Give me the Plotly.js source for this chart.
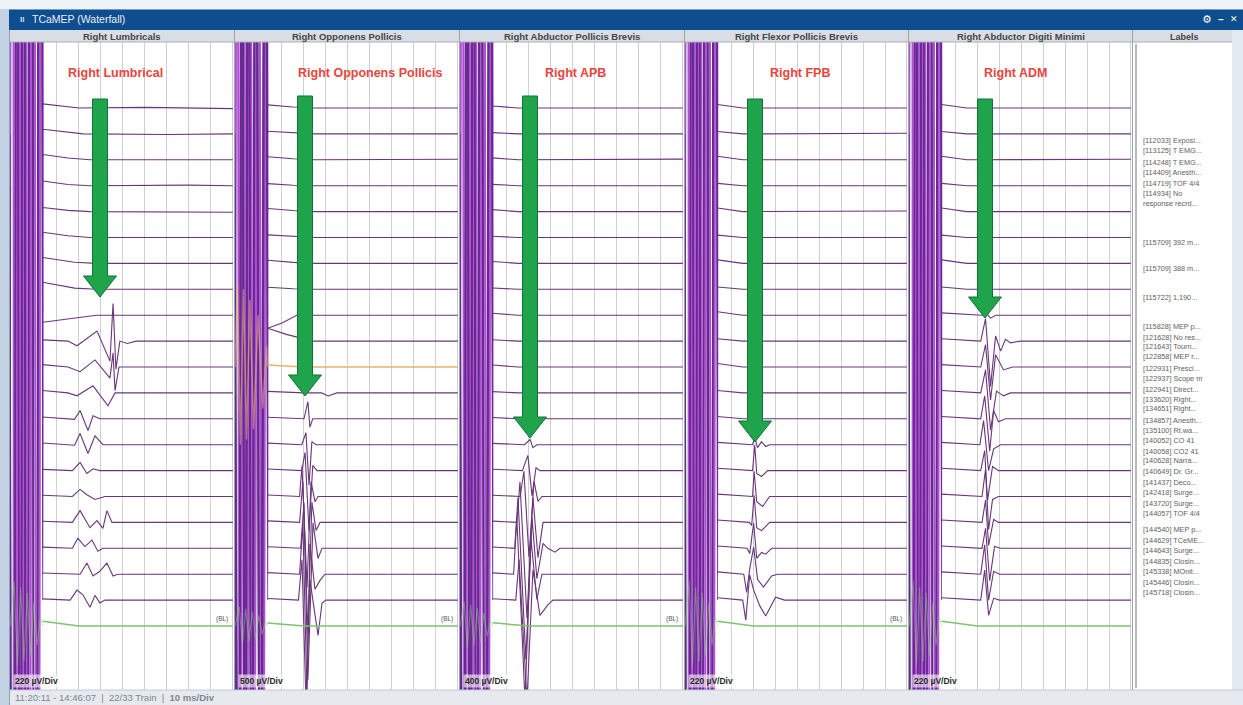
<!DOCTYPE html>
<html>
<head>
<meta charset="utf-8">
<script src="https://cdn.plot.ly/plotly-3.0.1.min.js"></script>
<style>
html,body{margin:0;padding:0;background:#ffffff;overflow:hidden;}
#chart{width:1243px;height:705px;}
</style>
</head>
<body>
<div id="chart"></div>
<script>
// ================= DATA =================
const windowTitle = "TCaMEP (Waterfall)";
const channelNames = ["Right Lumbricals", "Right Opponens Pollicis", "Right Abductor Pollicis Brevis", "Right Flexor Pollicis Brevis", "Right Abductor Digiti Minimi"];
const calloutNames = ["Right Lumbrical", "Right Opponens Pollicis", "Right APB", "Right FPB", "Right ADM"];
const sensitivityUv = [220, 500, 400, 220, 220];           // µV per division
const sensitivityLabels = ["220 µV/Div", "500 µV/Div", "400 µV/Div", "220 µV/Div", "220 µV/Div"];
const statusRange = "11:20:11 - 14:46:07  |  22/33 Train  |  ";
const statusTimebase = "10 ms/Div";
const baselineTag = "(BL)";

const eventLabels = [
  "[112033] Exposi...", "[113125] T EMG...", "[114248] T EMG...", "[114409] Anesth...",
  "[114719] TOF 4/4", "[114934] No", "response recrd...", "[115709] 392 m...",
  "[115709] 388 m...", "[115722] 1,190...", "[115828] MEP p...", "[121628] No res...",
  "[121643] Tourn...", "[122858] MEP r...", "[122931] Presci...", "[122937] Scope m",
  "[122941] Direct...", "[133620] Right...", "[134651] Right...", "[134857] Anesth...",
  "[135100] Rt.wa...", "[140052] CO 41", "[140058] CO2 41", "[140628] Narra...",
  "[140649] Dr. Gr...", "[141437] Deco...", "[142418] Surge...", "[143720] Surge...",
  "[144057] TOF 4/4", "[144540] MEP p...", "[144629] TCeME...", "[144643] Surge...",
  "[144835] Closin...", "[145338] MOnit...", "[145446] Closin...", "[145718] Closin..."
];

// stimulus artifact (time ms, µV) – saturating, two alternating patterns
const artifactTimesA = [-1.3, -0.3, 1.1, 2.5, 3.9, 5.4, 7.1, 9.1, 11.3, 13.0, 13.5];
const artifactValsA  = [0, 20000, -20000, 20000, -20000, 20000, -20000, 20000, -20000, 20000, 0];
const artifactTimesB = [-1.3, 0.4, 1.8, 3.2, 4.7, 6.2, 8.1, 10.2, 12.4, 13.5];
const artifactValsB  = [0, -20000, 20000, -20000, 20000, -20000, 20000, -20000, 20000, 0];
const highlightArtifactVals = [0, 1600, -1500, 1500, -1400, 1300, -1200, 1000, -800, 400, 0];
const greenArtifactTimes = [-1.3, 0.5, 2.0, 3.5, 5.0, 6.5, 8.0, 9.5, 11.0, 12.5, 13.5];
const greenArtifactVals  = [0, 380, -340, 330, -300, 280, -250, 200, -160, 80, 0];

// traces: [time ms, µV] vertices, top trial first
const lumbricalRows = [
  [[13.5,35],[20,20],[30,0],[60,5],[100,-5]],
  [[13.5,40],[22,20],[32,0],[70,-5],[100,0]],
  [[13.5,45],[25,15],[35,0],[100,0]],
  [[13.5,40],[25,10],[35,0],[80,5],[100,0]],
  [[13.5,35],[25,10],[35,0],[100,-5]],
  [[13.5,45],[25,15],[35,0],[100,0]],
  [[13.5,50],[28,10],[38,0],[100,0]],
  [[13.5,60],[28,10],[38,0],[100,0]],
  [[13.5,-60],[25,-30],[38,0],[100,0]],
  [[13.5,10],[25,0],[29.1,-40],[38.2,85],[44.1,-170],[45.5,320],[46.8,-240],[48.6,0],[52,-20],[56,0],[100,0]],
  [[13.5,20],[25,0],[30.5,-40],[37.3,60],[44.1,-95],[45.5,120],[46.4,-200],[48.2,0],[100,0]],
  [[13.5,20],[25,0],[29.1,-25],[36.4,60],[43.2,-110],[46.4,0],[100,0]],
  [[13.5,15],[25,0],[28,-5],[30.5,70],[34.1,-100],[36.4,25],[39.5,0],[100,0]],
  [[13.5,15],[25,0],[28,-5],[30.5,95],[34.1,-75],[37.3,75],[40.9,0],[100,0]],
  [[13.5,10],[27,0],[30.5,70],[33.6,-25],[36.4,15],[39.5,0],[100,0]],
  [[13.5,10],[27,0],[30.5,60],[33.6,15],[37.3,-25],[39.5,-10],[41.8,0],[100,0]],
  [[13.5,10],[27,0],[30.5,100],[35,-45],[38.2,15],[40.9,-50],[42.7,100],[45,0],[100,0]],
  [[13.5,10],[27,0],[29.5,85],[32.7,15],[35.9,70],[38.6,-25],[40.9,0],[100,0]],
  [[13.5,10],[28,0],[30.5,0],[33.6,95],[36.4,-15],[39.5,25],[42.7,95],[45.5,-15],[47.7,0],[100,0]],
  [[13.5,10],[26,0],[29.1,85],[31.8,45],[35,-60],[37.3,40],[39.5,-25],[41.8,0],[100,0]]
];
const opponensRows = [
  [[13.5,60],[25,20],[35,0],[100,0]],
  [[13.5,50],[25,20],[35,0],[100,0]],
  [[13.5,60],[25,20],[35,0],[100,10]],
  [[13.5,40],[25,10],[35,0],[100,0]],
  [[13.5,60],[25,20],[35,0],[100,0]],
  [[13.5,50],[25,20],[35,0],[100,0]],
  [[13.5,60],[25,20],[35,0],[100,0]],
  [[13.5,40],[25,10],[35,0],[100,0]],
  [[13.5,-250],[20,-150],[26.8,0],[100,0]],
  [[13.5,250],[22,130],[34,0],[100,0]],
  [[13.5,40],[30,0],[100,0]],
  [[13.5,30],[30,0],[38,0],[41,-60],[45,0],[100,0]],
  [[13.5,30],[30,0],[31.8,330],[32.7,-160],[34,0],[100,0]],
  [[13.5,30],[29,0],[30.9,230],[32.3,-780],[33.6,60],[35.5,0],[100,0]],
  [[13.5,30],[29,0],[30.5,350],[32.3,-1170],[34,100],[35.9,0],[100,0]],
  [[13.5,30],[28,0],[29.1,585],[31.4,-1755],[33.2,290],[35,-100],[36.4,0],[100,0]],
  [[13.5,30],[28,0],[29.5,780],[31.8,-2145],[33.6,390],[35.5,-155],[37.3,0],[100,0]],
  [[13.5,30],[28.5,0],[30,880],[31.8,-2535],[34.1,490],[36.4,-195],[38.2,0],[100,0]],
  [[13.5,30],[28,0],[29.5,975],[31.4,-2340],[32.7,585],[35,-290],[37.3,-120],[39.5,0],[100,0]],
  [[13.5,30],[27.5,0],[29.1,780],[30.9,-1950],[32.7,390],[36.4,-680],[38.2,-60],[40,0],[100,0]]
];
const apbRows = [
  [[13.5,30],[25,0],[100,0]],
  [[13.5,20],[25,0],[100,0]],
  [[13.5,30],[25,0],[100,10]],
  [[13.5,20],[25,0],[100,0]],
  [[13.5,30],[25,0],[100,0]],
  [[13.5,20],[25,0],[100,0]],
  [[13.5,30],[25,0],[100,0]],
  [[13.5,20],[25,0],[100,0]],
  [[13.5,30],[25,0],[100,0]],
  [[13.5,20],[25,0],[100,0]],
  [[13.5,30],[25,0],[100,0]],
  [[13.5,20],[25,0],[100,0]],
  [[13.5,20],[25,0],[30.5,30],[32,0],[100,0]],
  [[13.5,20],[28,0],[30.5,80],[31.8,-45],[33.6,0],[100,0]],
  [[13.5,20],[27,0],[29.5,235],[31.4,-390],[33.2,45],[35,0],[100,0]],
  [[13.5,20],[26,0],[27.7,390],[30,-935],[32.3,235],[34.1,-75],[35.9,0],[100,0]],
  [[13.5,20],[24.5,0],[25.9,625],[29.1,-1480],[31.8,390],[34.1,-545],[36.4,0],[100,0]],
  [[13.5,20],[23.5,0],[25,780],[28.6,-1715],[31.4,470],[33.6,-470],[36.4,75],[38.6,0],[41.8,-60],[44.1,0],[100,0]],
  [[13.5,20],[23,0],[24.5,860],[28.2,-1950],[30.9,545],[33.6,-390],[35.9,0],[100,0]],
  [[13.5,20],[24,0],[25.5,625],[29.1,-1560],[31.8,470],[35,-235],[38.6,-75],[40.9,0],[100,0]]
];
const fpbRows = [
  [[13.5,30],[25,0],[100,0]],
  [[13.5,20],[25,0],[100,5]],
  [[13.5,30],[25,0],[100,0]],
  [[13.5,20],[25,0],[100,0]],
  [[13.5,30],[25,0],[100,5]],
  [[13.5,20],[25,0],[100,0]],
  [[13.5,30],[25,0],[100,0]],
  [[13.5,20],[25,0],[100,0]],
  [[13.5,30],[25,0],[100,0]],
  [[13.5,20],[25,0],[100,0]],
  [[13.5,30],[25,0],[100,0]],
  [[13.5,20],[25,0],[100,0]],
  [[13.5,20],[25,0],[100,0]],
  [[13.5,20],[29.5,0],[30.5,60],[31.8,-25],[33.6,25],[35.5,-15],[37.3,0],[100,0]],
  [[13.5,20],[29.5,0],[30.5,220],[31.4,-25],[33.6,-50],[36.4,0],[100,0]],
  [[13.5,20],[29.5,0],[30.2,215],[31.4,-45],[34.1,-85],[37.3,0],[100,0]],
  [[13.5,20],[28,0],[29.1,-25],[30.2,230],[31.4,-45],[33.6,-70],[37.3,0],[100,0]],
  [[13.5,20],[27,0],[28.2,-45],[30,215],[31.4,-85],[33.6,-35],[35.5,-50],[38.2,0],[100,0]],
  [[13.5,20],[25.5,0],[26.8,-155],[28.2,45],[30,230],[31.8,-45],[34.5,-110],[38.2,-15],[40.9,0],[100,0]],
  [[13.5,20],[25,0],[26.4,-170],[28.2,215],[30,85],[32.7,-45],[35.5,-135],[38.2,-35],[40,25],[44.1,0],[100,0]]
];
const admRows = [
  [[13.5,30],[25,0],[100,0]],
  [[13.5,20],[25,0],[100,0]],
  [[13.5,30],[25,0],[100,5]],
  [[13.5,20],[25,0],[100,0]],
  [[13.5,30],[25,0],[100,0]],
  [[13.5,20],[25,0],[100,0]],
  [[13.5,30],[25,0],[100,0]],
  [[13.5,20],[25,0],[100,0]],
  [[13.5,20],[32,0],[33.6,25],[35.9,-25],[38.2,0],[100,0]],
  [[13.5,20],[31.4,0],[33.6,190],[35.9,-385],[38.2,45],[40.5,-85],[42.7,15],[45,-15],[49.5,0],[100,0]],
  [[13.5,20],[31.4,0],[33.6,190],[35.9,-280],[38.2,105],[41.8,-25],[45.9,0],[100,0]],
  [[13.5,20],[31.4,0],[33.6,195],[35.9,-315],[38.6,15],[41.8,-25],[45,0],[100,0]],
  [[13.5,20],[31.4,0],[33.2,195],[35.5,-275],[37.3,70],[39.5,-25],[42.7,0],[100,0]],
  [[13.5,20],[31,0],[32.7,205],[35,-220],[37.3,-35],[40.5,0],[100,0]],
  [[13.5,20],[31.4,0],[33.2,170],[34.5,-255],[36.8,35],[39.5,0],[100,0]],
  [[13.5,20],[32,0],[33.6,230],[35,-280],[36.8,-25],[39.5,0],[100,0]],
  [[13.5,20],[32,0],[33.6,190],[35,-195],[37.3,25],[39.5,0],[100,0]],
  [[13.5,20],[32,0],[33.6,170],[35.5,-275],[37.7,15],[40.5,0],[100,0]],
  [[13.5,20],[31.4,0],[33.2,250],[35,-220],[37.3,25],[40,0],[100,0]],
  [[13.5,20],[31.4,0],[33.2,255],[35,-130],[37.3,15],[40,0],[100,0]]
];
// baseline (green) trial per channel
const baselineRows = [
  [[13.5,40],[30,0],[100,0]],
  [[13.5,60],[30,0],[100,0]],
  [[13.5,50],[30,0],[100,0]],
  [[13.5,40],[30,0],[100,0]],
  [[13.5,40],[30,0],[100,0]]
];
const channelRows = [lumbricalRows, opponensRows, apbRows, fpbRows, admRows];
const highlightedTrial = {channel: 1, row: 10};

// ================= LAYOUT GEOMETRY (pixels) =================
const W = 1243, H = 705;
const panelLeft = [10, 235, 460, 685, 909];
const panelRight = [234, 459, 684, 908, 1132];
const plotTop = 42, plotBottom = 690, firstTracePx = 108, rowPx = 25.9;
const arrowGeom = [[100, 99, 297], [305, 96, 396], [530, 96, 438], [755, 99, 442], [985, 99, 318]];
const calloutCenters = [115, 370, 575, 800, 1015];
const eventLabelPx = [141,151,162,172,183,193,204,242,268,298,326,337,347,357,368,378,389,399,409,420,430,440,451,461,471,482,492,503,513,529,540,550,561,571,582,592];

const px = x => x / W;
const py = y => 1 - y / H;

// ================= TRACES =================
const traces = [];
channelRows.forEach((rows, k) => {
  const xa = k === 0 ? 'x' : 'x' + (k + 1);
  const ya = k === 0 ? 'y' : 'y' + (k + 1);
  const s = sensitivityUv[k];
  const artA = {x: [], y: []}, artB = {x: [], y: []}, sig = {x: [], y: []}, hi = {x: [], y: []}, hiArt = {x: [], y: []};
  const grnArt = {x: [], y: []}, grn = {x: [], y: []};
  rows.forEach((row, i) => {
    const useA = i % 2 === 0;
    const tArr = useA ? artifactTimesA : artifactTimesB;
    const vArr = useA ? artifactValsA : artifactValsB;
    const dst = useA ? artA : artB;
    tArr.forEach((t, j) => { dst.x.push(t); dst.y.push(-i + vArr[j] / s); });
    dst.x.push(null); dst.y.push(null);
    const isHi = (k === highlightedTrial.channel && i === highlightedTrial.row);
    if (isHi) artifactTimesA.forEach((t, j) => { hiArt.x.push(t); hiArt.y.push(-i + highlightArtifactVals[j] / s); });
    const target = isHi ? hi : sig;
    row.forEach(p => { target.x.push(p[0]); target.y.push(-i + p[1] / s); });
    target.x.push(null); target.y.push(null);
  });
  const gi = rows.length;
  greenArtifactTimes.forEach((t, j) => { grnArt.x.push(t); grnArt.y.push(-gi + greenArtifactVals[j] / s); });
  baselineRows[k].forEach(p => { grn.x.push(p[0]); grn.y.push(-gi + p[1] / s); });
  const base = {type: 'scatter', mode: 'lines', xaxis: xa, yaxis: ya, hoverinfo: 'skip', connectgaps: false};
  traces.push(Object.assign({}, base, artA, {line: {color: 'rgba(178,80,215,0.55)', width: 1.3}}));
  traces.push(Object.assign({}, base, artB, {line: {color: 'rgba(100,45,140,0.8)', width: 1}}));
  traces.push(Object.assign({}, base, grnArt, {line: {color: 'rgba(140,215,120,0.45)', width: 1.1}}));
  if (hiArt.x.length) traces.push(Object.assign({}, base, hiArt, {line: {color: 'rgba(240,190,110,0.5)', width: 1.5}}));
  traces.push(Object.assign({}, base, sig, {line: {color: '#6a367a', width: 1.1}}));
  if (hi.x.length) traces.push(Object.assign({}, base, hi, {line: {color: '#e6b46a', width: 1.5}}));
  traces.push(Object.assign({}, base, grn, {line: {color: '#7cc46a', width: 1.5}}));
});

// ================= AXES =================
const layout = {
  width: W, height: H,
  margin: {l: 0, r: 0, t: 0, b: 0},
  paper_bgcolor: '#ffffff', plot_bgcolor: 'rgba(0,0,0,0)',
  showlegend: false, hovermode: false,
  font: {family: 'Liberation Sans, Arial, sans-serif', color: '#333'},
  shapes: [], annotations: []
};
const yRange = [-(plotBottom - firstTracePx) / rowPx, (firstTracePx - plotTop) / rowPx];
for (let k = 0; k < 5; k++) {
  const xk = k === 0 ? 'xaxis' : 'xaxis' + (k + 1);
  const yk = k === 0 ? 'yaxis' : 'yaxis' + (k + 1);
  layout[xk] = {
    domain: [px(panelLeft[k]), px(panelRight[k])],
    range: [-1.36, 100.5], anchor: k === 0 ? 'y' : 'y' + (k + 1),
    showgrid: true, gridcolor: '#cfcfd6', gridwidth: 1, dtick: 10, tick0: 0,
    showticklabels: false, ticks: '', zeroline: false, showline: false, fixedrange: true
  };
  layout[yk] = {
    domain: [py(plotBottom), py(plotTop)], range: yRange,
    anchor: k === 0 ? 'x' : 'x' + (k + 1),
    visible: false, showgrid: false, zeroline: false, fixedrange: true
  };
}

// ================= CHROME SHAPES =================
const S = layout.shapes, A = layout.annotations;
const rect = (x0, y0, x1, y1, fill, layer) => S.push({type: 'rect', xref: 'paper', yref: 'paper', x0: px(x0), x1: px(x1), y0: py(y1), y1: py(y0), fillcolor: fill, line: {width: 0}, layer: layer || 'below'});
const vline = (x, y0, y1, color, w, layer) => S.push({type: 'line', xref: 'paper', yref: 'paper', x0: px(x), x1: px(x), y0: py(y0), y1: py(y1), line: {color: color, width: w}, layer: layer || 'above'});
const hline = (x0, x1, y, color, w) => S.push({type: 'line', xref: 'paper', yref: 'paper', x0: px(x0), x1: px(x1), y0: py(y), y1: py(y), line: {color: color, width: w}, layer: 'above'});

rect(0, 0, W, 9, '#eef3f8');
rect(0, 9, 9, H, '#c4d3e4');
rect(9, 9, W, 30, '#0e4d8e');
hline(9, W, 9.5, '#6f9cc8', 1);
rect(9, 30, 1232, 42, '#d9dee4');
hline(9, 1232, 42, '#a9b1ba', 1);
rect(1232, 30, W, 690, '#e3eaf1');
rect(9, 690, W, H, '#e6eaee');
hline(9, W, 690, '#c3cad2', 1);
vline(9.5, 30, 705, '#8aa3bf', 1);
[234.5, 459.5, 684.5, 908.5, 1132.5].forEach(x => vline(x, 30, 690, '#9ca3ab', 1));
vline(1136, 44, 688, '#b9b9b9', 2);

// green arrows
arrowGeom.forEach(([cx, top, tip]) => {
  const sh = 7.5, hh = 16.5, hl = 21;
  const pts = [[cx - sh, top], [cx + sh, top], [cx + sh, tip - hl], [cx + hh, tip - hl], [cx, tip], [cx - hh, tip - hl], [cx - sh, tip - hl]];
  const path = 'M' + pts.map(p => px(p[0]).toFixed(5) + ',' + py(p[1]).toFixed(5)).join(' L') + ' Z';
  S.push({type: 'path', xref: 'paper', yref: 'paper', path: path, fillcolor: '#1fa34b', line: {color: '#13723a', width: 1}, layer: 'above'});
});

// ================= TEXT =================
const txt = (x, y, text, size, color, anchor, extra) => A.push(Object.assign({
  xref: 'paper', yref: 'paper', x: px(x), y: py(y), text: text, showarrow: false,
  xanchor: anchor || 'left', yanchor: 'middle', font: {size: size, color: color}
}, extra || {}));

txt(18, 19.5, '<b>II</b>', 8, '#cfe0f2', 'left');
txt(30, 19.5, windowTitle, 10.5, '#e8f0fa', 'left');
txt(1207, 19.5, '⚙', 11, '#ffffff', 'center', {font: {size: 11, color: '#ffffff', family: 'DejaVu Sans'}});
txt(1221, 19.5, '<b>–</b>', 10, '#ffffff', 'center');
txt(1234, 19.5, '<b>✕</b>', 9, '#ffffff', 'center', {font: {size: 9, color: '#ffffff', family: 'DejaVu Sans'}});

channelNames.forEach((n, k) => txt((panelLeft[k] + panelRight[k]) / 2, 36.5, '<b>' + n + '</b>', 9.5, '#454545', 'center'));
txt(1184, 36.5, '<b>Labels</b>', 9, '#454545', 'center');

calloutNames.forEach((n, k) => txt(calloutCenters[k], 73, '<b>' + n + '</b>', 12.5, '#e8453c', 'center'));

sensitivityLabels.forEach((n, k) => txt(panelLeft[k] + 3, 681, '<b>' + n + '</b>', 8.5, '#2a2a2a', 'left', {bgcolor: 'rgba(255,255,255,0.6)'}));
for (let k = 0; k < 4; k++) {
  A.push({xref: k === 0 ? 'x' : 'x' + (k + 1), yref: k === 0 ? 'y' : 'y' + (k + 1), x: 98.5, y: -channelRows[k].length + 0.28,
    text: baselineTag, showarrow: false, xanchor: 'right', yanchor: 'middle', font: {size: 6.5, color: '#555'}});
}

eventLabels.forEach((l, i) => txt(1141, eventLabelPx[i], l, 7.3, '#616161', 'left'));

txt(13, 697.5, statusRange + '<b>' + statusTimebase + '</b>', 9.5, '#7d8592', 'left');

Plotly.newPlot('chart', traces, layout, {displayModeBar: false, staticPlot: true});
</script>
</body>
</html>
